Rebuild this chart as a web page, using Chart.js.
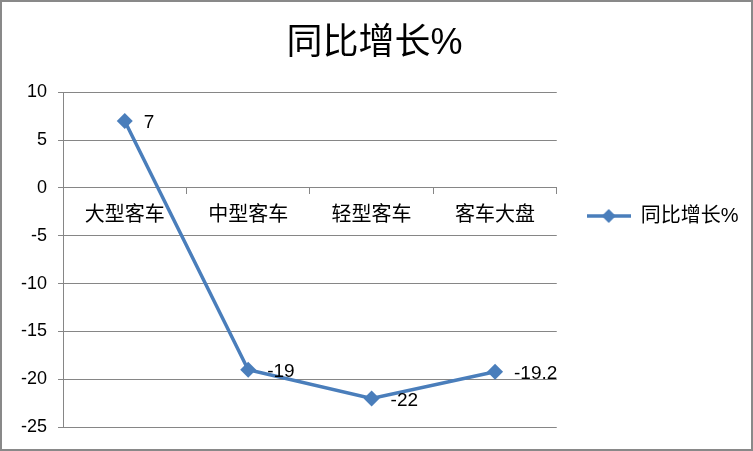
<!DOCTYPE html>
<html>
<head>
<meta charset="utf-8">
<script src="https://cdn.jsdelivr.net/npm/chart.js@4.4.1/dist/chart.umd.min.js"></script>
<style>
  html, body { margin: 0; padding: 0; background: #fff; }
  #wrap {
    position: absolute; left: 0; top: 0;
    width: 753px; height: 451px;
    box-sizing: border-box;
    border: 2px solid #898989;
  }
  canvas { display: block; }
</style>
</head>
<body>
<div id="wrap"><canvas id="chart" width="749" height="447"></canvas></div>
<script>
const categories = ['大型客车', '中型客车', '轻型客车', '客车大盘'];
const growth = [7, -19, -22, -19.2];
const seriesName = '同比增长%';
const chartTitle = '同比增长%';
const yTicks = [-25, -20, -15, -10, -5, 0, 5, 10];

const lineColor = '#4a7ebb';
const font = '"Liberation Sans", "Noto Sans CJK SC", sans-serif';

// legend marker: line with a diamond in the middle
function legendMarker() {
    const c = document.createElement('canvas');
    c.width = 44;
    c.height = 18;
    const g = c.getContext('2d');
    g.strokeStyle = lineColor;
    g.lineWidth = 3.5;
    g.beginPath();
    g.moveTo(0, 9);
    g.lineTo(44, 9);
    g.stroke();
    g.fillStyle = lineColor;
    g.beginPath();
    g.moveTo(22, 2);
    g.lineTo(29, 9);
    g.lineTo(22, 16);
    g.lineTo(15, 9);
    g.closePath();
    g.fill();
    return c;
}

// value labels to the right of each point
const valueLabels = {
    id: 'valueLabels',
    afterDatasetsDraw(chart) {
        const ctx = chart.ctx;
        const meta = chart.getDatasetMeta(0);
        ctx.save();
        ctx.font = '19px ' + font;
        ctx.fillStyle = '#000';
        ctx.textAlign = 'left';
        ctx.textBaseline = 'middle';
        meta.data.forEach((pt, i) => {
            ctx.fillText(String(growth[i]), pt.x + 19, pt.y + 2);
        });
        ctx.restore();
    }
};

const marker = legendMarker();

new Chart(document.getElementById('chart'), {
    type: 'line',
    data: {
        labels: categories,
        datasets: [{
            label: seriesName,
            data: growth,
            borderColor: lineColor,
            backgroundColor: lineColor,
            borderWidth: 3.5,
            pointStyle: 'rectRot',
            pointRadius: 8,
            pointBorderWidth: 0,
            tension: 0
        }]
    },
    options: {
        responsive: false,
        animation: false,
        layout: { padding: { left: 8, right: 12, top: 0, bottom: 19 } },
        plugins: {
            title: {
                display: true,
                text: chartTitle,
                color: '#000',
                font: { family: font, size: 36, weight: 'normal' },
                padding: { top: 20, bottom: 27 }
            },
            legend: {
                position: 'right',
                labels: {
                    color: '#000',
                    font: { family: font, size: 20 },
                    usePointStyle: true,
                    pointStyle: marker,
                    pointStyleWidth: 44,
                    padding: 30,
                    generateLabels(chart) {
                        return [{
                            text: seriesName,
                            pointStyle: marker,
                            fillStyle: lineColor,
                            strokeStyle: lineColor,
                            lineWidth: 0,
                            datasetIndex: 0
                        }];
                    }
                }
            },
            tooltip: { enabled: false }
        },
        scales: {
            x: {
                position: { y: 0 },
                offset: true,
                grid: {
                    drawOnChartArea: false,
                    drawTicks: true,
                    tickLength: 6,
                    color: '#868686',
                    offset: true
                },
                border: { display: true, color: '#868686', width: 1 },
                ticks: {
                    color: '#000',
                    font: { family: font, size: 20 },
                    padding: 10,
                    maxRotation: 0
                }
            },
            y: {
                min: -25,
                max: 10,
                afterBuildTicks(axis) {
                    axis.ticks = yTicks.map(v => ({ value: v }));
                },
                grid: {
                    color: '#868686',
                    lineWidth: 1,
                    tickLength: 5
                },
                border: { display: true, color: '#868686', width: 1 },
                ticks: {
                    color: '#000',
                    font: { family: font, size: 18 },
                    padding: 11
                }
            }
        }
    },
    plugins: [valueLabels]
});
</script>
</body>
</html>
